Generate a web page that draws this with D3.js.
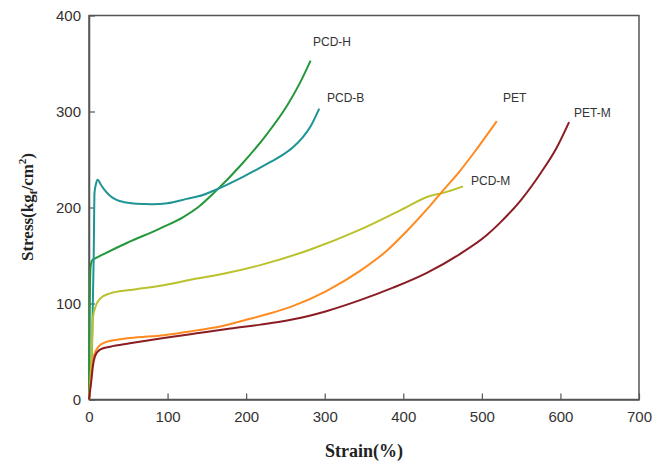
<!DOCTYPE html>
<html>
<head>
<meta charset="utf-8">
<script src="https://cdn.jsdelivr.net/npm/d3@7"></script>
<style>
  body { margin: 0; background: #fff; }
  svg { display: block; }
</style>
</head>
<body>
<div id="chart"></div>
<script>
// stress-strain curves, values (strain %, stress kgf/cm2)
const pcdH = [[0,0],[1,100],[2,138],[4,145],[8,147],[20,152],[48,163],[90,178],[120,190],[140,201],[160,216],[192,243],[226,276],[252,306],[268,329],[282,353]];
const pcdB = [[0,0],[4,60],[6,150],[7,215],[9,225],[11,229],[15,224],[20,218],[27,212],[35,208],[45,205.5],[60,204],[80,203.5],[100,204.5],[124,209],[145,213],[160,218],[196,232],[230,247],[245,254],[260,263],[272,273],[283,286],[293,303]];
const pcdM = [[0,0],[3,40],[5,85],[7.6,95],[14,105],[27,110.6],[52,114],[95,119],[137,126],[171,131],[218,140],[281,156],[345,177],[396,197],[434,212],[450,215],[476,222]];
const pet = [[0,0],[3,25],[6,45],[12,55],[22,60],[52,64],[95,67],[137,72],[167,76],[200,83],[230,89.5],[260,97.5],[302,113],[345,134],[379,155],[404,175],[430,198],[451,218],[472,238],[489,256],[519,290]];
const petM = [[0,0],[3,20],[5,35],[7.6,45],[14,52],[27,55],[52,58.5],[95,64],[137,69],[180,74],[218,78],[243,81],[260,83.5],[302,92],[345,103.5],[387,116.5],[430,132],[472,151.5],[506,171],[523,184],[549,207],[575,236],[595,262],[611,289]];

const seriesNames = ["PCD-H", "PCD-B", "PCD-M", "PET", "PET-M"];
const xTicks = [0, 100, 200, 300, 400, 500, 600, 700];
const yTicks = [0, 100, 200, 300, 400];

const width = 664, height = 461;
const margin = { top: 15.5, right: 25, bottom: 61.5, left: 89 };

const svg = d3.select("#chart").append("svg")
  .attr("width", width)
  .attr("height", height);

const x = d3.scaleLinear().domain([0, 700]).range([margin.left, width - margin.right]);
const y = d3.scaleLinear().domain([0, 400]).range([height - margin.bottom, margin.top]);

const series = [
  { name: seriesNames[0], data: pcdH, color: "#24973a", lx: 313, ly: 46 },
  { name: seriesNames[1], data: pcdB, color: "#1e9494", lx: 327, ly: 102 },
  { name: seriesNames[2], data: pcdM, color: "#b9c22c", lx: 471, ly: 185 },
  { name: seriesNames[3], data: pet, color: "#ff8a1f", lx: 503, ly: 102 },
  { name: seriesNames[4], data: petM, color: "#8a1c24", lx: 574, ly: 117 }
];

// frame
svg.append("rect")
  .attr("x", x(0)).attr("y", y(400))
  .attr("width", x(700) - x(0)).attr("height", y(0) - y(400))
  .attr("fill", "none").attr("stroke", "#555").attr("stroke-width", 1.5);

// axes, ticks point inward
const xAxis = svg.append("g")
  .attr("transform", `translate(0,${y(0)})`)
  .call(d3.axisBottom(x).tickValues(xTicks).tickSizeInner(-6).tickSizeOuter(0).tickPadding(12));
const yAxis = svg.append("g")
  .attr("transform", `translate(${x(0)},0)`)
  .call(d3.axisLeft(y).tickValues(yTicks).tickSizeInner(-6).tickSizeOuter(0).tickPadding(8));

[xAxis, yAxis].forEach(function (g) {
  g.select(".domain").attr("stroke", "#555").attr("stroke-width", 1.5);
  g.selectAll(".tick line").attr("stroke", "#555").attr("stroke-width", 1.2);
  g.selectAll(".tick text")
    .attr("font-family", "'Liberation Sans', Arial, sans-serif")
    .attr("font-size", 15)
    .attr("fill", "#333");
});

const line = d3.line()
  .x(d => x(d[0]))
  .y(d => y(d[1]))
  .curve(d3.curveMonotoneX);

svg.selectAll(".curve")
  .data(series)
  .enter()
  .append("path")
  .attr("class", "curve")
  .attr("d", d => line(d.data))
  .attr("fill", "none")
  .attr("stroke", d => d.color)
  .attr("stroke-width", 2);

svg.selectAll(".label")
  .data(series)
  .enter()
  .append("text")
  .attr("x", d => d.lx)
  .attr("y", d => d.ly)
  .attr("font-family", "'Liberation Sans', Arial, sans-serif")
  .attr("font-size", 12)
  .attr("fill", "#333")
  .text(d => d.name);

// axis titles
svg.append("text")
  .attr("x", 364).attr("y", 457)
  .attr("text-anchor", "middle")
  .attr("font-family", "'Liberation Serif', 'Times New Roman', serif")
  .attr("font-weight", "bold")
  .attr("font-size", 18)
  .attr("fill", "#222")
  .text("Strain(%)");

const yt = svg.append("text")
  .attr("transform", "translate(33,207) rotate(-90)")
  .attr("text-anchor", "middle")
  .attr("font-family", "'Liberation Serif', 'Times New Roman', serif")
  .attr("font-weight", "bold")
  .attr("font-size", 17)
  .attr("fill", "#222");
yt.append("tspan").text("Stress(kg");
yt.append("tspan").attr("font-size", 11).attr("dy", 4).text("f");
yt.append("tspan").attr("dy", -4).text("/cm");
yt.append("tspan").attr("font-size", 11).attr("dy", -7).text("2");
yt.append("tspan").attr("dy", 7).text(")");
</script>
</body>
</html>
